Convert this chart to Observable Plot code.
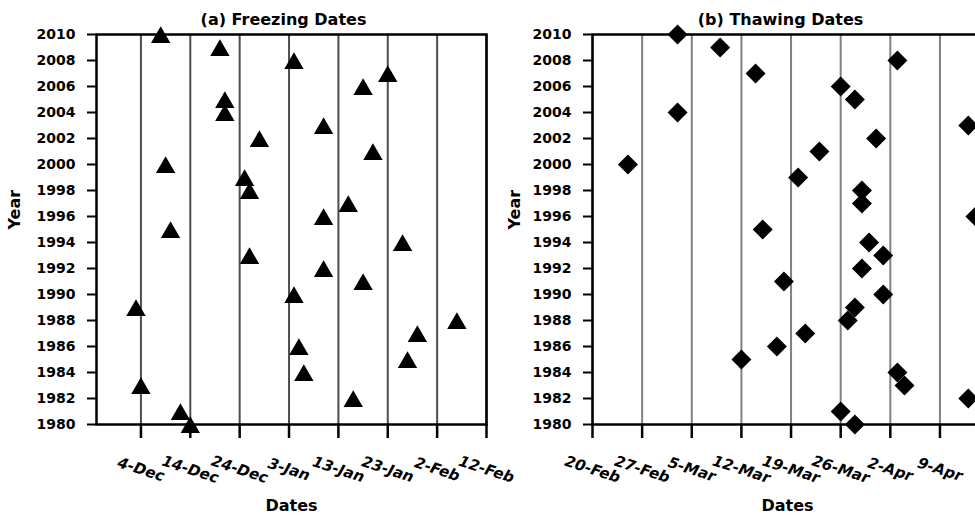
<!DOCTYPE html>
<html><head><meta charset="utf-8">
<script src="https://cdn.jsdelivr.net/npm/d3@7"></script>
<script src="https://cdn.jsdelivr.net/npm/@observablehq/plot@0.6"></script>
<style>
html,body{margin:0;padding:0;background:#fff;overflow:hidden;width:975px;height:516px;}
#wrap{position:relative;width:975px;height:516px;overflow:hidden;background:#fff;}
.panel{position:absolute;top:0;}
</style></head><body>
<div id="wrap"><div class="panel" id="pa" style="left:0"></div><div class="panel" id="pb" style="left:498px"></div></div>
<script>
// ---- data ----
const years = [1980,1981,1982,1983,1984,1985,1986,1987,1988,1989,1990,1991,1992,1993,1994,1995,1996,1997,1998,1999,2000,2001,2002,2003,2004,2005,2006,2007,2008,2009,2010];
const freezeDates = ["14-Dec","12-Dec","16-Jan","4-Dec","6-Jan","27-Jan","5-Jan","29-Jan","6-Feb","3-Dec","4-Jan","18-Jan","10-Jan","26-Dec","26-Jan","10-Dec","10-Jan","15-Jan","26-Dec","25-Dec","9-Dec","20-Jan","28-Dec","10-Jan","21-Dec","21-Dec","18-Jan","23-Jan","4-Jan","20-Dec","8-Dec"];
const thawDates = ["28-Mar","26-Mar","13-Apr","4-Apr","3-Apr","12-Mar","17-Mar","21-Mar","27-Mar","28-Mar","1-Apr","18-Mar","29-Mar","1-Apr","30-Mar","15-Mar","14-Apr","29-Mar","29-Mar","20-Mar","25-Feb","23-Mar","31-Mar","13-Apr","3-Mar","28-Mar","26-Mar","14-Mar","3-Apr","9-Mar","3-Mar"];
const freezeTickLabels = ["4-Dec","14-Dec","24-Dec","3-Jan","13-Jan","23-Jan","2-Feb","12-Feb"];
const thawTickLabels = ["20-Feb","27-Feb","5-Mar","12-Mar","19-Mar","26-Mar","2-Apr","9-Apr"];
const yearTicks = [1980,1982,1984,1986,1988,1990,1992,1994,1996,1998,2000,2002,2004,2006,2008,2010];
const freezeDomain = ["25-Nov","12-Feb"];
const thawDomain = ["20-Feb","15-Apr"];

// ---- helpers ----
const parse = d3.timeParse("%d-%b-%Y");
const freezeDay = s => { const m = s.split("-")[1]; return parse(`${s}-${(m === "Nov" || m === "Dec") ? 2007 : 2008}`); };
const thawDay = s => parse(`${s}-2008`);

function panel({title, dates, toDate, domain, tickLabels, symbol, r, dotDy, gridColor, marginLeft, yearDx, titleDx}) {
  const ticks = tickLabels.map(toDate);
  return Plot.plot({
    width: marginLeft + 390 + 13,
    height: 516,
    marginLeft, marginRight: 13, marginTop: 34, marginBottom: 92,
    style: {fontFamily: "DejaVu Sans", fontWeight: "bold", fontSize: "14px", background: "transparent", overflow: "visible", maxWidth: "none", color: "black"},
    x: {type: "time", domain: domain.map(toDate)},
    y: {domain: [1980, 2010]},
    marks: [
      Plot.ruleX(ticks, {x: d => d, stroke: gridColor, strokeWidth: 2}),
      Plot.frame({stroke: "black", strokeWidth: 2.5}),
      Plot.axisY({ticks: yearTicks, tickSize: 9, tickPadding: 12, tickFormat: d => String(d), strokeWidth: 2, fontSize: 14, label: null}),
      Plot.axisX({ticks, tickSize: 14, tickFormat: () => "", strokeWidth: 2.5, label: null}),
      Plot.text(tickLabels, {x: toDate, text: d => d, frameAnchor: "bottom", lineAnchor: "middle", dy: 45, rotate: 18, fontSize: 15, fontStyle: "italic"}),
      Plot.dot(years, {x: (d, i) => toDate(dates[i]), y: d => d, symbol, r, fill: "black", stroke: "none", dy: dotDy}),
      Plot.text([title], {frameAnchor: "top", lineAnchor: "middle", dy: -15, dx: titleDx, fontSize: 16}),
      Plot.text(["Year"], {frameAnchor: "left", lineAnchor: "middle", dx: yearDx, rotate: -90, fontSize: 16}),
      Plot.text(["Dates"], {frameAnchor: "bottom", lineAnchor: "middle", dy: 81, fontSize: 16})
    ]
  });
}

document.getElementById("pa").append(panel({
  title: "(a) Freezing Dates", dates: freezeDates, toDate: freezeDay, domain: freezeDomain,
  tickLabels: freezeTickLabels, symbol: "triangle", r: 7.2, dotDy: 3, gridColor: "#4d4d4d",
  marginLeft: 96, yearDx: -82, titleDx: -8
}));
document.getElementById("pb").append(panel({
  title: "(b) Thawing Dates", dates: thawDates, toDate: thawDay, domain: thawDomain,
  tickLabels: thawTickLabels, symbol: d3.symbolDiamond2, r: 9, dotDy: 0, gridColor: "#808080",
  marginLeft: 94, yearDx: -78, titleDx: -7
}));
</script>
</body></html>
